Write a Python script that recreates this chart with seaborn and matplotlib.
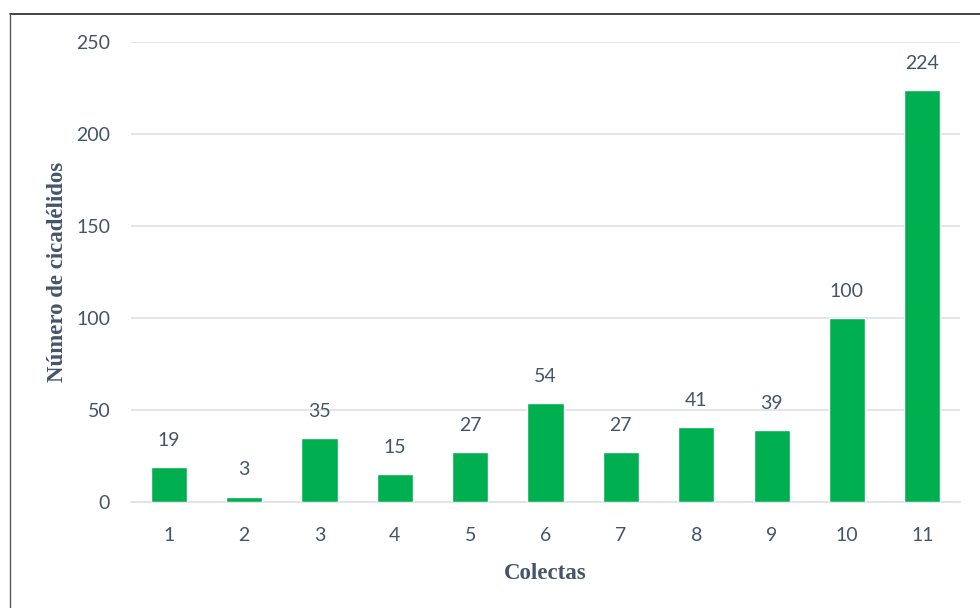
import matplotlib
matplotlib.use("Agg")
import matplotlib.pyplot as plt
import matplotlib.lines as mlines
import seaborn as sns
import pandas as pd

colectas = ["1", "2", "3", "4", "5", "6", "7", "8", "9", "10", "11"]
cicadelidos = [19, 3, 35, 15, 27, 54, 27, 41, 39, 100, 224]
y_ticks = [0, 50, 100, 150, 200, 250]

df = pd.DataFrame({"Colectas": colectas, "Cicadelidos": cicadelidos})

sns.set_theme(style="white")
plt.rcParams["font.family"] = ["Lato", "DejaVu Sans"]

text_color = "#44546A"
grid_color = "#DDE2E8"
bar_color = "#00B050"

fig = plt.figure(figsize=(9.8, 6.08), dpi=100)
ax = fig.add_axes([0.1337, 0.1743, 0.8459, 0.7566])

sns.barplot(data=df, x="Colectas", y="Cicadelidos", color=bar_color,
            width=0.48, saturation=1, ax=ax, zorder=3)

ax.set_ylim(0, 250)
ax.set_yticks(y_ticks)
ax.set_xlim(-0.5, len(colectas) - 0.5)
ax.yaxis.grid(True, color=grid_color, linewidth=1.2, zorder=0)
ax.set_axisbelow(True)
for side in ["top", "right", "left"]:
    ax.spines[side].set_visible(False)
ax.spines["bottom"].set_color(grid_color)
ax.spines["bottom"].set_linewidth(1.2)

ax.tick_params(axis="both", length=0, labelsize=14, labelcolor=text_color)
ax.tick_params(axis="x", pad=18)
ax.tick_params(axis="y", pad=15)

for i, v in enumerate(cicadelidos):
    ax.annotate(str(v), xy=(i, v), xytext=(0, 13), textcoords="offset points",
                ha="center", va="bottom", fontsize=14, color=text_color)

ax.set_xlabel("Colectas", fontsize=16.5, fontweight="bold", color=text_color,
              family="Liberation Serif", labelpad=14)
ax.set_ylabel("Número de cicadélidos", fontsize=16.5, fontweight="bold",
              color=text_color, family="Liberation Serif", labelpad=6)

# frame edges along the top and left of the figure
fig.add_artist(mlines.Line2D([10 / 980, 1], [1 - 14 / 608, 1 - 14 / 608],
                             transform=fig.transFigure, color="#222222", linewidth=1.2))
fig.add_artist(mlines.Line2D([10 / 980, 10 / 980], [0, 1 - 14 / 608],
                             transform=fig.transFigure, color="#555555", linewidth=1.0))

fig.savefig("out.png", dpi=100)
